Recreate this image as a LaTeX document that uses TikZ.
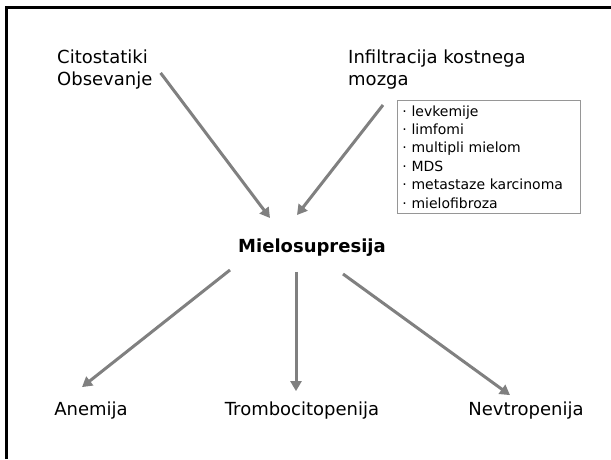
\documentclass[tikz,border=0pt]{standalone}
\usepackage{fontspec}
\setmainfont{DejaVu Sans}
\usetikzlibrary{arrows.meta, positioning}
\definecolor{arrowgray}{RGB}{128, 128, 128}
\definecolor{boxgray}{RGB}{150, 150, 150}

\begin{document}
\begin{tikzpicture}[
  x=1pt, y=-1pt,
  lbl/.style={font=\fontsize{18}{22}\selectfont, align=left, inner sep=0pt},
  arr/.style={draw=arrowgray, line width=3pt, -{Triangle[width=11pt, length=10pt]}},
  listbox/.style={draw=boxgray, line width=0.8pt, text width=173pt, align=left,
    inner sep=5pt, font=\fontsize{14}{18.4}\selectfont}
]
  \useasboundingbox (0,0) rectangle (611,459);
  \fill[white] (0,0) rectangle (611,459);
  % frame
  \draw[line width=3pt] (6,459) -- (6,7) -- (611,7);

  \node[lbl, anchor=north west] (cito) at (57,50) {Citostatiki\\Obsevanje};
  \node[lbl, anchor=north west] (infil) at (348,50) {Infiltracija kostnega\\mozga};
  \node[listbox, anchor=north west] (causes) at (397,100) {
    · levkemije\\
    · limfomi\\
    · multipli mielom\\
    · MDS\\
    · metastaze karcinoma\\
    · mielofibroza
  };
  \node[lbl, font=\bfseries\fontsize{18}{22}\selectfont] (mielo) at (312,248) {Mielosupresija};
  \node[lbl] (anem) at (91,411) {Anemija};
  \node[lbl] (tromb) at (302,411) {Trombocitopenija};
  \node[lbl] (nevtro) at (526,411) {Nevtropenija};

  % causes
  \draw[arr] ([shift={(8,3)}]cito.east) -- ([shift={(-42,-21)}]mielo.north);
  \draw[arr] ([shift={(-14,5)}]causes.north west) -- ([shift={(-15,-24)}]mielo.north);
  % effects
  \draw[arr] ([shift={(-82,13)}]mielo.south) -- ([shift={(-9,-15)}]anem.north);
  \draw[arr] ([shift={(-16,15)}]mielo.south) -- ([shift={(-6,-11)}]tromb.north);
  \draw[arr] ([shift={(31,17)}]mielo.south) -- ([shift={(-16,-7)}]nevtro.north);
\end{tikzpicture}
\end{document}
